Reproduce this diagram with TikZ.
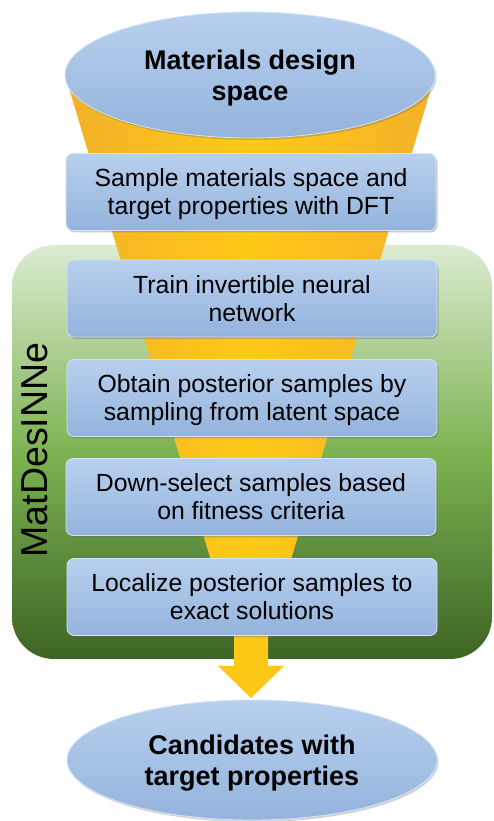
\documentclass[tikz,border=0pt]{standalone}
\usepackage{fontspec}
\setmainfont{Liberation Sans}
\usetikzlibrary{shadows,shapes.geometric}
\definecolor{boxblue}{HTML}{A2BFE3}
\definecolor{boxtop}{HTML}{B8D0EE}
\definecolor{boxbot}{HTML}{94B3DC}
\definecolor{gtop}{HTML}{DCEBD2}
\definecolor{gmid}{HTML}{7DB352}
\definecolor{gbot}{HTML}{3D6424}
\definecolor{ylw}{HTML}{FFC917}
\definecolor{ylwedge}{HTML}{F2B12A}
\tikzset{
  stepbox/.style={rectangle, rounded corners=7pt, minimum width=370pt, minimum height=77pt,
    top color=boxtop, bottom color=boxbot, draw=boxtop!60!white, line width=0.8pt,
    drop shadow={shadow xshift=1.5pt, shadow yshift=-2pt, opacity=0.35, fill=black!60},
    align=center, font=\fontsize{24.8}{28}\selectfont, text=black, inner sep=0pt, text depth=0pt},
  endell/.style={ellipse, minimum width=370pt, inner sep=0pt,
    top color=boxtop, bottom color=boxbot, draw=boxtop!60!white, line width=0.8pt,
    drop shadow={shadow xshift=1.5pt, shadow yshift=-2pt, opacity=0.3, fill=black!60},
    align=center, font=\fontsize{27}{31}\selectfont\bfseries, text=black, text depth=0pt},
}
\begin{document}
\begin{tikzpicture}[x=1pt,y=1pt]
\useasboundingbox (0,0) rectangle (493,821);
% green panel
\path[top color=gtop, bottom color=gbot, middle color=gmid, rounded corners=42pt]
  (12,{821-245}) rectangle (492,{821-659});
% funnel + arrow
\path[left color=ylwedge, right color=ylwedge, middle color=ylw]
  (65,{821-75}) -- (435,{821-75}) -- (268,{821-637}) -- (268,{821-666}) -- (284,{821-666})
  -- (251,{821-698}) -- (218,{821-666}) -- (234,{821-666}) -- (234,{821-637}) -- cycle;
% ellipses
\node[endell, minimum height=126pt] (top) at (250,{821-75}) {Materials design\\space};
\node[endell, minimum height=120pt] (bot) at (252,{821-760}) {Candidates with\\target properties};
% steps
\node[stepbox] (s1) at (251,{821-192}) {Sample materials space and\\target properties with DFT};
\node[stepbox] (s2) at (252,{821-298.5}) {Train invertible neural\\network};
\node[stepbox] (s3) at (252,{821-398}) {Obtain posterior samples by\\sampling from latent space};
\node[stepbox] (s4) at (251,{821-497}) {Down-select samples based\\on fitness criteria};
\node[stepbox] (s5) at (252,{821-597}) {Localize posterior samples to\\exact solutions};
% vertical label
\node[rotate=90, font=\fontsize{37.5}{40}\selectfont, inner sep=0pt] (lbl) at (34.5,{821-450}) {MatDesINNe};
\end{tikzpicture}
\end{document}
